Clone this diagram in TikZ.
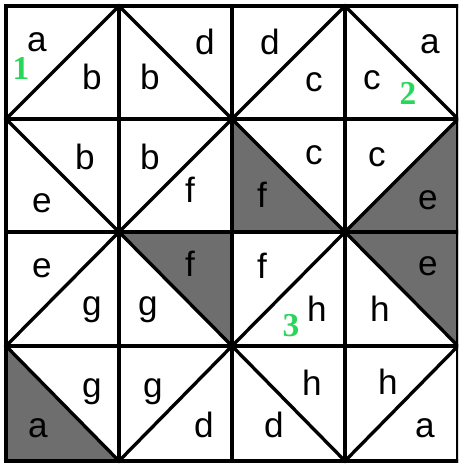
\documentclass[tikz,border=0pt]{standalone}
\usepackage{fontspec}
\setmainfont{Liberation Sans}
\newfontfamily\numfont{Liberation Serif}
\definecolor{shade}{RGB}{110,110,110}
\definecolor{mark}{RGB}{40,215,90}
\tikzset{
  lbl/.style={font=\fontsize{20}{22}\selectfont, inner sep=0pt},
  num/.style={font=\numfont\bfseries\fontsize{19}{20}\selectfont, text=mark, inner sep=0pt},
  edge/.style={line width=1.9pt, line cap=rect},
  piece/.style={fill=shade, draw=none}
}
\begin{document}
\begin{tikzpicture}[x=0.02cm, y=-0.02cm]
  \useasboundingbox (0,0) rectangle (458,466);
  \clip (0,0) rectangle (458,466);

  % shaded triangles
  \fill[piece] (232,119) -- (232,232) -- (345,232) -- cycle;
  \fill[piece] (458,119) -- (458,232) -- (345,232) -- cycle;
  \fill[piece] (119,232) -- (232,232) -- (232,346) -- cycle;
  \fill[piece] (345,232) -- (458,232) -- (458,346) -- cycle;
  \fill[piece] (6,346) -- (6,461) -- (119,461) -- cycle;

  % grid
  \foreach \x in {6,119,232,345,458}
    \draw[edge] (\x,6) -- (\x,461);
  \foreach \y in {6,119,232,346,461}
    \draw[edge] (6,\y) -- (458,\y);

  % diagonals
  \draw[edge] (119,6) -- (232,119) -- (119,232) -- (6,119) -- cycle;
  \draw[edge] (345,6) -- (458,119) -- (345,232) -- (232,119) -- cycle;
  \draw[edge] (119,232) -- (232,346) -- (119,461) -- (6,346) -- cycle;
  \draw[edge] (345,232) -- (458,346) -- (345,461) -- (232,346) -- cycle;

  % row 1
  \node[lbl] (a1) at (37,42) {a};
  \node[lbl] (b1) at (92,77) {b};
  \node[lbl] (b2) at (150,77) {b};
  \node[lbl] (d1) at (205,42) {d};
  \node[lbl] (d2) at (270,42) {d};
  \node[lbl] (c1) at (314,82) {c};
  \node[lbl] (c2) at (372,80) {c};
  \node[lbl] (a2) at (430,44) {a};

  % row 2
  \node[lbl] (b3) at (85,157) {b};
  \node[lbl] (e1) at (42,203) {e};
  \node[lbl] (b4) at (150,157) {b};
  \node[lbl] (f1) at (190,190) {f};
  \node[lbl] (c3) at (314,155) {c};
  \node[lbl] (f2) at (262,195) {f};
  \node[lbl] (c4) at (377,157) {c};
  \node[lbl] (e2) at (428,200) {e};

  % row 3
  \node[lbl] (e3) at (42,268) {e};
  \node[lbl] (g1) at (92,310) {g};
  \node[lbl] (g2) at (148,310) {g};
  \node[lbl] (f3) at (190,264) {f};
  \node[lbl] (f4) at (262,266) {f};
  \node[lbl] (h1) at (317,309) {h};
  \node[lbl] (h2) at (380,309) {h};
  \node[lbl] (e4) at (428,266) {e};

  % row 4
  \node[lbl] (g3) at (92,392) {g};
  \node[lbl] (a3) at (38,428) {a};
  \node[lbl] (g4) at (153,392) {g};
  \node[lbl] (d3) at (204,425) {d};
  \node[lbl] (h3) at (312,383) {h};
  \node[lbl] (d4) at (274,425) {d};
  \node[lbl] (h4) at (388,382) {h};
  \node[lbl] (a4) at (425,428) {a};

  % numbers
  \node[num] (n1) at (21,68) {1};
  \node[num] (n2) at (408,93) {2};
  \node[num] (n3) at (291,326) {3};
\end{tikzpicture}
\end{document}
